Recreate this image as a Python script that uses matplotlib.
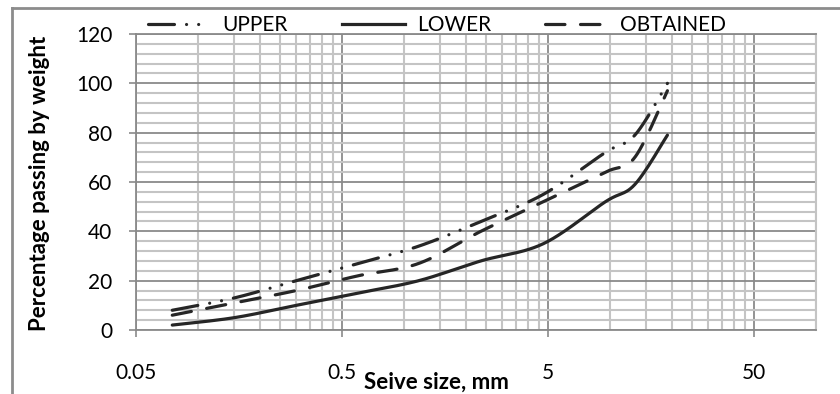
import numpy as np
import matplotlib
matplotlib.use('Agg')
import matplotlib.pyplot as plt
from matplotlib.lines import Line2D
from matplotlib.ticker import FixedLocator, FixedFormatter, MultipleLocator, NullFormatter

# ---- data ----
sieve_mm = [0.075, 0.15, 0.3, 0.6, 1.18, 2.36, 4.75, 9.5, 13.2, 19]
upper = [8, 13, 20, 27, 34, 44, 55, 72, 79, 100]
lower = [2, 5, 10, 15, 20, 28, 35, 52, 59, 79]
obtained = [6, 11, 16, 22, 27, 40, 52, 64, 70, 97]
series_names = ['UPPER', 'LOWER', 'OBTAINED']
x_tick_values = [0.05, 0.5, 5, 50]
x_tick_labels = ['0.05', '0.5', '5', '50']
y_ticks = [0, 20, 40, 60, 80, 100, 120]

plt.rcParams['font.family'] = ['Lato', 'DejaVu Sans']
plt.rcParams['lines.scale_dashes'] = False

def smooth(xs, ys, n=40):
    """Excel-style smoothed line (Bezier through the points) in log-x space."""
    u = np.log10(np.asarray(xs, float))
    v = np.asarray(ys, float)
    pts = np.column_stack([u, v])
    out = [pts[0]]
    m = len(pts)
    for i in range(m - 1):
        p0 = pts[i - 1] if i > 0 else pts[i]
        p1, p2 = pts[i], pts[i + 1]
        p3 = pts[i + 2] if i + 2 < m else pts[i + 1]
        c1 = p1 + (p2 - p0) / 6.0
        c2 = p2 - (p3 - p1) / 6.0
        t = np.linspace(0, 1, n)[1:, None]
        seg = (1 - t) ** 3 * p1 + 3 * (1 - t) ** 2 * t * c1 + 3 * (1 - t) * t ** 2 * c2 + t ** 3 * p2
        out.extend(seg)
    out = np.array(out)
    return 10 ** out[:, 0], out[:, 1]

W, H = 840, 394
fig = plt.figure(figsize=(W / 100, H / 100), dpi=100)
ax = fig.add_axes([136 / W, 1 - 330 / H, (816 - 136) / W, (330 - 34) / H])

line_color = '#262626'
lw = 2.3
upper_dash = (0, (18.7, 8.7, 0.01, 8.7, 0.01, 8.7))
obt_dash = (0, (14.0, 11.2))

xs, ys = smooth(sieve_mm, upper)
ax.plot(xs, ys, color=line_color, lw=lw, linestyle=upper_dash, dash_capstyle='round', zorder=3)
xs, ys = smooth(sieve_mm, lower)
ax.plot(xs, ys, color=line_color, lw=lw, linestyle='-', solid_capstyle='round', zorder=3)
xs, ys = smooth(sieve_mm, obtained)
ax.plot(xs, ys, color=line_color, lw=lw, linestyle=obt_dash, dash_capstyle='round', zorder=3)

ax.set_xscale('log')
ax.set_xlim(0.05, 100)
ax.set_ylim(0, 120)

minor_x = [0.05 * 10 ** d * k for d in range(3) for k in range(2, 10)] + [100]
ax.xaxis.set_major_locator(FixedLocator(x_tick_values))
ax.xaxis.set_major_formatter(FixedFormatter(x_tick_labels))
ax.xaxis.set_minor_locator(FixedLocator(minor_x))
ax.xaxis.set_minor_formatter(NullFormatter())
ax.yaxis.set_major_locator(FixedLocator(y_ticks))
ax.yaxis.set_minor_locator(MultipleLocator(4))

major_grid = '#8a8a8a'
minor_grid = '#c4c4c4'
ax.grid(which='minor', color=minor_grid, lw=1.5)
ax.grid(which='major', color=major_grid, lw=1.3)
ax.set_axisbelow(True)

ax.tick_params(which='major', length=5, width=1.2, color=major_grid, labelsize=15, labelcolor='black')
ax.tick_params(which='minor', length=0)
ax.tick_params(axis='x', which='major', pad=19)
ax.tick_params(axis='y', which='major', pad=12)

for s in ['left', 'bottom', 'top']:
    ax.spines[s].set_color(major_grid)
    ax.spines[s].set_linewidth(1.3)
ax.spines['right'].set_color(minor_grid)
ax.spines['right'].set_linewidth(1.5)

fig.text(40 / W, 1 - 183 / H, 'Percentage passing by weight', rotation=90, ha='center', va='center',
         fontsize=16, fontweight='bold', color='black')
fig.text(436 / W, 1 - 382 / H, 'Seive size, mm', ha='center', va='center',
         fontsize=16, fontweight='bold', color='black')

handles = [
    Line2D([], [], color=line_color, lw=lw, linestyle=upper_dash, dash_capstyle='round'),
    Line2D([], [], color=line_color, lw=lw, linestyle='-'),
    Line2D([], [], color=line_color, lw=lw, linestyle=obt_dash, dash_capstyle='round'),
]
fig.legend(handles, series_names, loc='center', bbox_to_anchor=(437 / W, 1 - 25 / H), ncol=3,
           frameon=False, fontsize=15, handlelength=3.0, handletextpad=0.6, columnspacing=2.6,
           borderpad=0, borderaxespad=0)

# outer chart border (left and top visible)
fig.add_artist(Line2D([12 / W, 12 / W], [0, 1 - 8 / H], color='#8c8c8c', lw=2, transform=fig.transFigure))
fig.add_artist(Line2D([12 / W, 1], [1 - 8 / H, 1 - 8 / H], color='#8c8c8c', lw=2, transform=fig.transFigure))

fig.savefig('out.png', dpi=100)
